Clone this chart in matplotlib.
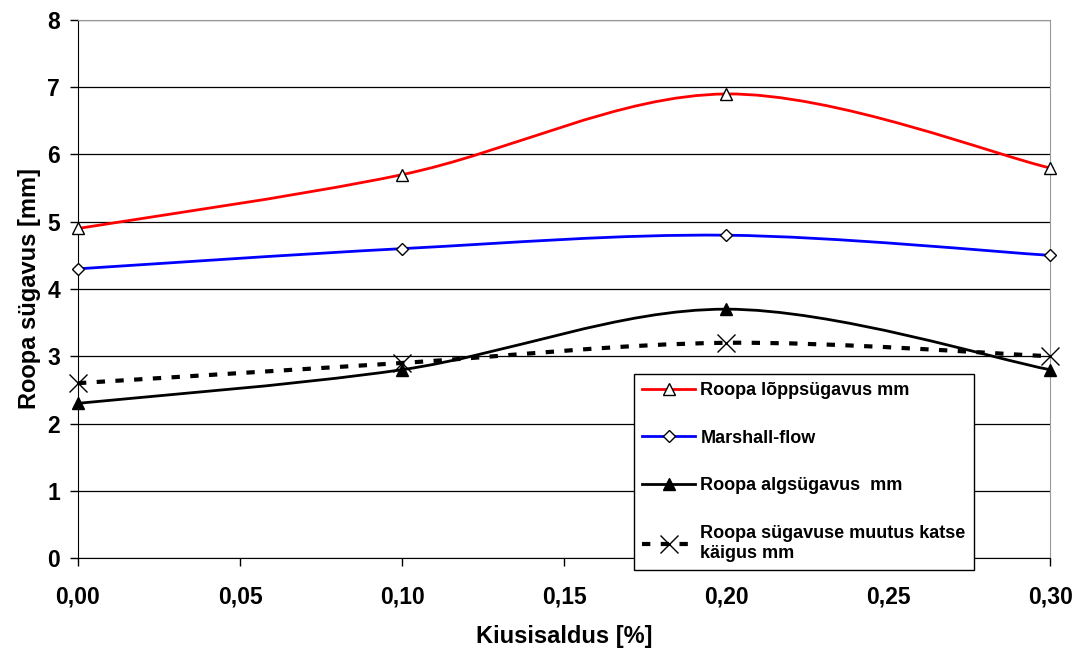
import numpy as np
import matplotlib.pyplot as plt
from matplotlib.path import Path
from matplotlib.patches import PathPatch
from matplotlib.lines import Line2D

plt.rcParams['font.family'] = ['Liberation Sans', 'DejaVu Sans']
plt.rcParams['font.weight'] = 'bold'

# andmed
kiusisaldus = [0.00, 0.10, 0.20, 0.30]
loppsugavus = [4.9, 5.7, 6.9, 5.8]
marshall = [4.3, 4.6, 4.8, 4.5]
algsugavus = [2.3, 2.8, 3.7, 2.8]
muutus = [2.6, 2.9, 3.2, 3.0]

x_ticks = [0.00, 0.05, 0.10, 0.15, 0.20, 0.25, 0.30]
y_ticks = [0, 1, 2, 3, 4, 5, 6, 7, 8]


def smooth_path(xs, ys):
    # Excel-laadne silutud joon (Bezier kontrollpunktid)
    p = np.column_stack([xs, ys]).astype(float)
    n = len(p)
    verts = [p[0]]
    codes = [Path.MOVETO]
    for i in range(n - 1):
        p0 = p[i - 1] if i > 0 else p[i]
        p3 = p[i + 2] if i + 2 < n else p[i + 1]
        c1 = p[i] + (p[i + 1] - p0) / 6
        c2 = p[i + 1] - (p3 - p[i]) / 6
        verts += [c1, c2, p[i + 1]]
        codes += [Path.CURVE4] * 3
    return Path(verts, codes)


fig = plt.figure(figsize=(10.77, 6.49), dpi=100)
ax = fig.add_axes([0.0724, 0.1402, 0.9026, 0.8290])

series = [
    (loppsugavus, 'red', '-', 2, dict(marker='^', mfc='white', mec='black', ms=9), 'Roopa lõppsügavus mm'),
    (marshall, 'blue', '-', 2, dict(marker='D', mfc='white', mec='black', ms=6), 'Marshall-flow'),
    (algsugavus, 'black', '-', 2, dict(marker='^', mfc='black', mec='black', ms=9), 'Roopa algsügavus  mm'),
    (muutus, 'black', (0, (2.0, 2.5)), 3, dict(marker='x', mfc='black', mec='black', ms=13, mew=1.0),
     'Roopa sügavuse muutus katse\nkäigus mm'),
]

handles = []
for ys, col, ls, lw, mk, lab in series:
    patch = PathPatch(smooth_path(kiusisaldus, ys), fill=False, edgecolor=col,
                      linewidth=lw, linestyle=ls, zorder=3, clip_on=False)
    ax.add_patch(patch)
    ax.plot(kiusisaldus, ys, linestyle='none', zorder=4, clip_on=False, **mk)
    handles.append(Line2D([], [], color=col, linestyle=ls, linewidth=lw, **mk))

ax.set_xlim(0, 0.30)
ax.set_ylim(0, 8)
ax.set_xticks(x_ticks)
ax.set_xticklabels([f'{v:.2f}'.replace('.', ',') for v in x_ticks])
ax.set_yticks(y_ticks)
ax.tick_params(direction='out', length=6, width=1, labelsize=16.5, pad=7, colors='black')
for lab in ax.get_xticklabels() + ax.get_yticklabels():
    lab.set_fontweight('bold')
ax.tick_params(axis='x', pad=14)

ax.grid(axis='y', color='black', linewidth=0.9)
ax.set_axisbelow(True)
for s in ['top', 'right']:
    ax.spines[s].set_color('#999999')
for s in ['left', 'bottom']:
    ax.spines[s].set_color('black')

ax.set_xlabel('Kiusisaldus [%]', fontsize=17, fontweight='bold', labelpad=12)
ax.set_ylabel('Roopa sügavus [mm]', fontsize=17, fontweight='bold', labelpad=4)

leg = fig.legend(handles=handles, labels=[s[5] for s in series],
                 loc='upper left', bbox_to_anchor=(0.589, 0.424),
                 fontsize=13, frameon=True, fancybox=False, edgecolor='black',
                 framealpha=1, labelspacing=1.7, handlelength=2.9,
                 handletextpad=0.3, borderpad=0.45, borderaxespad=0)
leg.get_frame().set_linewidth(1)
for t in leg.get_texts():
    t.set_fontweight('bold')
leg.set_zorder(10)

fig.savefig('out.png', dpi=100)
